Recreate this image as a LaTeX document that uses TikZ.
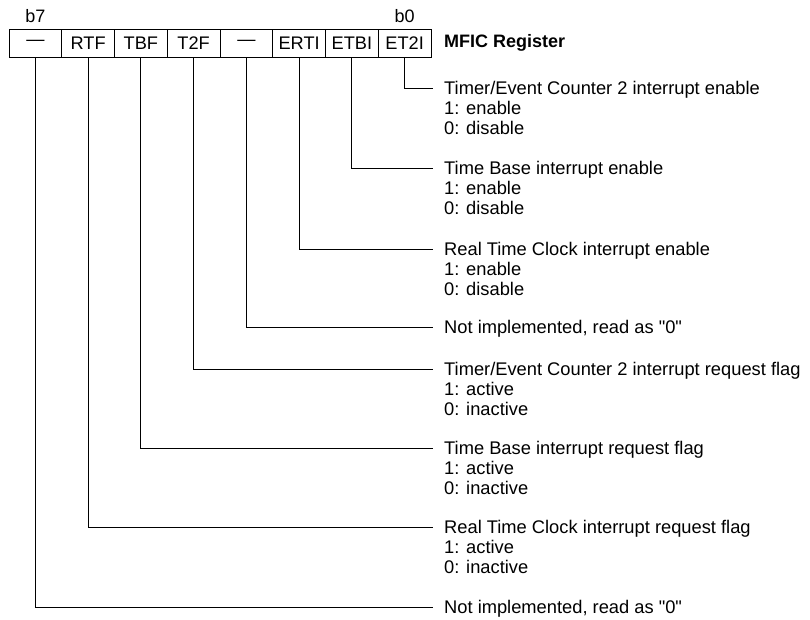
\documentclass[tikz,border=0pt]{standalone}
\usepackage{fontspec}
\setmainfont{Liberation Sans}[Ligatures=TeXOff]
\newcommand\grp[1]{\begin{tabular}[t]{@{}l@{}}#1\end{tabular}}
\begin{document}
\begin{tikzpicture}[x=1pt,y=-1pt,
  cell/.style={draw, line width=0.8pt, minimum width=52.75pt, minimum height=28pt, inner sep=0pt, font=\fontsize{18.2}{20}\selectfont},
  bitlbl/.style={inner sep=0pt, font=\fontsize{18}{20}\selectfont},
  lbl/.style={anchor=base west, inner sep=0pt, font=\fontsize{18.3}{20}\selectfont},
  conn/.style={line width=0.8pt}]
\useasboundingbox (0,0) rectangle (810,619);
% register cells
\node[cell] (c7) at (35.375,43) {—};
\node[cell] (c6) at (88.125,43) {RTF};
\node[cell] (c5) at (140.875,43) {TBF};
\node[cell] (c4) at (193.625,43) {T2F};
\node[cell] (c3) at (246.375,43) {—};
\node[cell] (c2) at (299.125,43) {ERTI};
\node[cell] (c1) at (351.875,43) {ETBI};
\node[cell] (c0) at (404.625,43) {ET2I};
\node[bitlbl] (b7) at (35.375,16) {b7};
\node[bitlbl] (b0) at (404.625,16) {b0};
\node[bitlbl, anchor=west, font=\bfseries\fontsize{18}{20}\selectfont] (title) at (444,43) {MFIC Register};
% descriptions
\node[lbl] (t0) at (444,94.5) {\grp{Timer/Event Counter 2 interrupt enable\\1: enable\\0: disable}};
\node[lbl] (t1) at (444,174.5) {\grp{Time Base interrupt enable\\1: enable\\0: disable}};
\node[lbl] (t2) at (444,255.5) {\grp{Real Time Clock interrupt enable\\1: enable\\0: disable}};
\node[lbl] (t3) at (444,333.5) {Not implemented, read as "0"};
\node[lbl] (t4) at (444,375.5) {\grp{Timer/Event Counter 2 interrupt request flag\\1: active\\0: inactive}};
\node[lbl] (t5) at (444,454.5) {\grp{Time Base interrupt request flag\\1: active\\0: inactive}};
\node[lbl] (t6) at (444,533.5) {\grp{Real Time Clock interrupt request flag\\1: active\\0: inactive}};
\node[lbl] (t7) at (444,613.5) {Not implemented, read as "0"};
% connector ends
\coordinate (e0) at (433,88);
\coordinate (e1) at (433,168);
\coordinate (e2) at (433,249);
\coordinate (e3) at (433,327);
\coordinate (e4) at (433,369);
\coordinate (e5) at (433,448);
\coordinate (e6) at (433,527);
\coordinate (e7) at (433,607);
\foreach \i in {0,...,7} {\draw[conn] (c\i.south) |- (e\i);}
\end{tikzpicture}
\end{document}
